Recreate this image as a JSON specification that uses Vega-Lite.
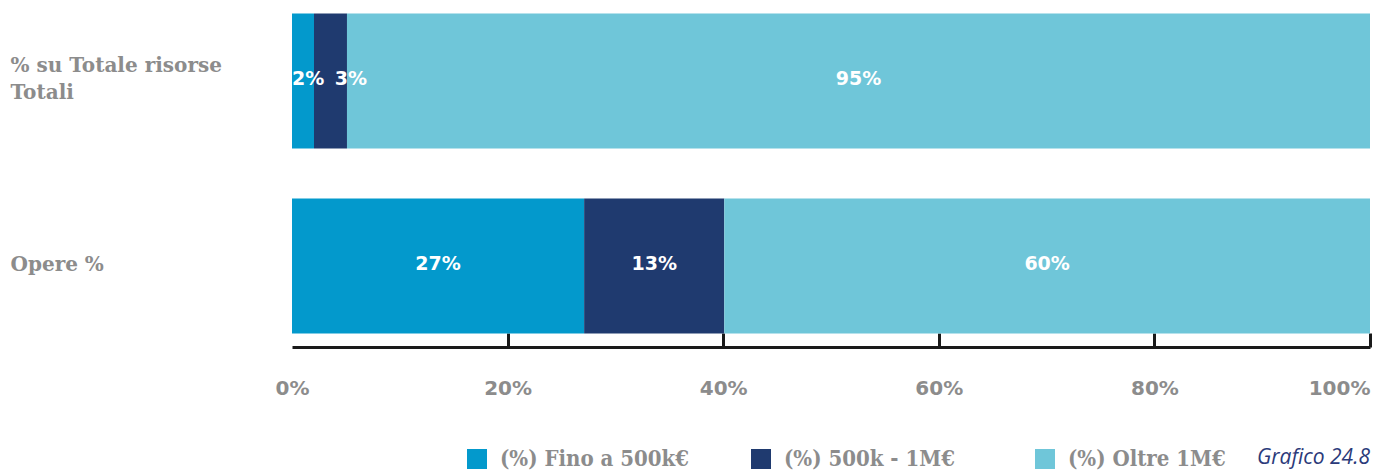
{
  "$schema": "https://vega.github.io/schema/vega-lite/v6.json",
  "width": 1078,
  "height": 347,
  "autosize": {"type": "none"},
  "padding": {"left": 292, "top": 0, "right": 19, "bottom": 123},
  "background": "white",
  "config": {"view": {"stroke": null}},
  "title": {
    "text": "Grafico 24.8",
    "orient": "bottom",
    "anchor": "end",
    "frame": "group",
    "font": "Open Sans",
    "fontStyle": "italic",
    "fontWeight": "normal",
    "fontSize": 21,
    "color": "#2b3a7a",
    "offset": 0,
    "dy": -23
  },
  "data": {
    "values": [
      {"cat": "% su Totale risorse Totali", "fascia": "(%) Fino a 500k€", "v": 0.0204, "ord": 1},
      {"cat": "% su Totale risorse Totali", "fascia": "(%) 500k - 1M€", "v": 0.0306, "ord": 2},
      {"cat": "% su Totale risorse Totali", "fascia": "(%) Oltre 1M€", "v": 0.949, "ord": 3},
      {"cat": "Opere %", "fascia": "(%) Fino a 500k€", "v": 0.271, "ord": 1},
      {"cat": "Opere %", "fascia": "(%) 500k - 1M€", "v": 0.130, "ord": 2},
      {"cat": "Opere %", "fascia": "(%) Oltre 1M€", "v": 0.599, "ord": 3}
    ]
  },
  "encoding": {
    "y": {
      "field": "cat",
      "type": "nominal",
      "sort": ["% su Totale risorse Totali", "Opere %"],
      "scale": {"paddingInner": 0.27, "paddingOuter": 0.073},
      "axis": {
        "title": null,
        "domain": false,
        "ticks": false,
        "labelAlign": "left",
        "labelBaseline": "middle",
        "labelPadding": 282,
        "labelFont": "DejaVu Serif",
        "labelFontWeight": "bold",
        "labelFontSize": 20,
        "labelColor": "#8c8c8c",
        "labelLimit": 0,
        "labelLineHeight": 27,
        "labelOffset": {"condition": {"test": "datum.value == '% su Totale risorse Totali'", "value": -15}, "value": -1},
        "labelExpr": "datum.value == '% su Totale risorse Totali' ? ['% su Totale risorse', 'Totali'] : datum.value"
      }
    }
  },
  "layer": [
    {
      "mark": {"type": "bar"},
      "encoding": {
        "x": {
          "field": "v",
          "type": "quantitative",
          "stack": "zero",
          "scale": {"domain": [0, 1], "nice": false},
          "axis": {
            "title": null,
            "grid": false,
            "values": [0, 0.2, 0.4, 0.6, 0.8, 1],
            "format": ".0%",
            "domainColor": "#1a1a1a",
            "domainWidth": 3,
            "tickColor": "#1a1a1a",
            "tickWidth": 3,
            "tickSize": -14,
            "tickOpacity": {"condition": {"test": "datum.value === 0", "value": 0}, "value": 1},
            "labelPadding": 45,
            "labelFont": "DejaVu Sans",
            "labelFontWeight": "bold",
            "labelFontSize": 20,
            "labelColor": "#8c8c8c",
            "labelBound": false,
            "labelFlush": false,
            "labelAlign": {"condition": {"test": "datum.value === 1", "value": "right"}, "value": "center"}
          }
        },
        "order": {"field": "ord", "type": "quantitative"},
        "color": {
          "field": "fascia",
          "type": "nominal",
          "scale": {
            "domain": ["(%) Fino a 500k€", "(%) 500k - 1M€", "(%) Oltre 1M€"],
            "range": ["#0399cc", "#1f3a6f", "#6fc6d9"]
          },
          "legend": {
            "title": null,
            "orient": "none",
            "legendX": 174,
            "legendY": 448,
            "direction": "horizontal",
            "columns": 3,
            "gridAlign": "all",
            "columnPadding": 61,
            "symbolType": "square",
            "symbolSize": 400,
            "symbolStrokeWidth": 0,
            "labelFont": "DejaVu Serif Condensed",
            "labelFontWeight": "bold",
            "labelFontSize": 22,
            "labelColor": "#8c8c8c",
            "labelOffset": 12,
            "labelLimit": 0
          }
        }
      }
    },
    {
      "transform": [
        {"stack": "v", "groupby": ["cat"], "sort": [{"field": "ord"}], "as": ["x0", "x1"]},
        {"calculate": "(datum.x0 + datum.x1) / 2", "as": "lx"},
        {"filter": "datum.v >= 0.04"}
      ],
      "mark": {"type": "text", "color": "white", "font": "DejaVu Sans", "fontWeight": "bold", "fontSize": 19, "baseline": "middle", "align": "center", "dy": -2},
      "encoding": {
        "x": {"field": "lx", "type": "quantitative"},
        "text": {"field": "v", "type": "quantitative", "format": ".0%"}
      }
    },
    {
      "transform": [
        {"stack": "v", "groupby": ["cat"], "sort": [{"field": "ord"}], "as": ["x0", "x1"]},
        {"filter": "datum.v < 0.04 && datum.ord == 1"}
      ],
      "mark": {"type": "text", "color": "white", "font": "DejaVu Sans", "fontWeight": "bold", "fontSize": 19, "baseline": "middle", "align": "left", "dy": -2},
      "encoding": {
        "x": {"field": "x0", "type": "quantitative"},
        "text": {"field": "v", "type": "quantitative", "format": ".0%"}
      }
    },
    {
      "transform": [
        {"stack": "v", "groupby": ["cat"], "sort": [{"field": "ord"}], "as": ["x0", "x1"]},
        {"filter": "datum.v < 0.04 && datum.ord == 2"}
      ],
      "mark": {"type": "text", "color": "white", "font": "DejaVu Sans", "fontWeight": "bold", "fontSize": 19, "baseline": "middle", "align": "center", "dx": 4, "dy": -2},
      "encoding": {
        "x": {"field": "x1", "type": "quantitative"},
        "text": {"field": "v", "type": "quantitative", "format": ".0%"}
      }
    }
  ]
}
